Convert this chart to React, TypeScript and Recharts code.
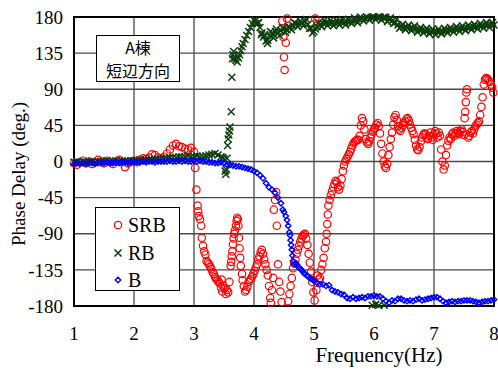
import { ScatterChart, Scatter, XAxis, YAxis, CartesianGrid, ReferenceArea } from "recharts";

// [frequency Hz, phase deg]
const SRB: [number, number][] = [
  [1.0, -2], [1.05, -4], [1.1, -1], [1.15, 1], [1.2, -2], [1.25, 0], [1.3, -3], [1.35, -1], [1.4, 2], [1.45, 0],
  [1.5, -2], [1.55, 1], [1.6, -1], [1.65, -3], [1.7, 0], [1.75, 2], [1.8, -1], [1.85, -7], [1.9, -2], [1.95, 0],
  [2.0, 1], [2.05, -1], [2.1, 2], [2.15, 4], [2.2, 3], [2.25, 5], [2.3, 9], [2.35, 8], [2.4, 5], [2.45, 4],
  [2.5, 6], [2.55, 10], [2.6, 15], [2.65, 20], [2.7, 22], [2.75, 19], [2.8, 18], [2.85, 16], [2.9, 15], [2.95, 17],
  [3.0, 12], [3.02, -8], [3.04, -35], [3.06, -55], [3.07, -62], [3.08, -68], [3.1, -72], [3.12, -80], [3.13, -95],
  [3.15, -105], [3.17, -112], [3.19, -116], [3.21, -124], [3.23, -126], [3.25, -128], [3.27, -131], [3.29, -134],
  [3.31, -138], [3.33, -140], [3.35, -144], [3.37, -146], [3.39, -148], [3.41, -150], [3.43, -152], [3.45, -157],
  [3.46, -147], [3.47, -162], [3.49, -155], [3.51, -158], [3.53, -165], [3.55, -160], [3.57, -163], [3.59, -150],
  [3.61, -130], [3.62, -125], [3.63, -118], [3.64, -112], [3.65, -103], [3.66, -96], [3.67, -90], [3.68, -86],
  [3.7, -80], [3.71, -74], [3.72, -70], [3.73, -72], [3.74, -80], [3.75, -95], [3.76, -108], [3.77, -120],
  [3.78, -130], [3.8, -140], [3.81, -148], [3.83, -155], [3.85, -162], [3.87, -160], [3.89, -156], [3.91, -150],
  [3.93, -148], [3.95, -146], [3.97, -143], [3.99, -140], [4.01, -136], [4.03, -132], [4.05, -128], [4.07, -122],
  [4.09, -118], [4.11, -113], [4.13, -110], [4.15, -115], [4.17, -122], [4.19, -128], [4.21, -135], [4.23, -142],
  [4.25, -155], [4.27, -170], [4.28, -176], [4.3, -160], [4.32, -145], [4.33, -60], [4.35, -48], [4.37, -38],
  [4.38, -80], [4.4, -128], [4.42, -150], [4.44, -162], [4.46, -175], [4.47, 175], [4.49, 155], [4.5, 130],
  [4.51, 114], [4.53, 148], [4.55, 178], [4.57, -174], [4.59, -165], [4.61, -155], [4.63, -145], [4.65, -133],
  [4.67, -127], [4.69, -122], [4.71, -115], [4.73, -110], [4.75, -105], [4.77, -100], [4.79, -96], [4.81, -93],
  [4.83, -91], [4.85, -90], [4.87, -96], [4.89, -104], [4.91, -115], [4.93, -126], [4.95, -137], [4.97, -150],
  [4.99, -163], [5.01, -173], [5.02, 178], [5.04, -160], [5.06, -142], [5.08, -147], [5.1, -145], [5.12, -135],
  [5.14, -128], [5.16, -120], [5.18, -108], [5.2, -100], [5.21, -90], [5.22, -78], [5.23, -66], [5.24, -55],
  [5.26, -48], [5.28, -42], [5.3, -37], [5.32, -32], [5.34, -28], [5.36, -24], [5.38, -26], [5.4, -32], [5.42, -35],
  [5.44, -30], [5.46, -22], [5.48, -12], [5.5, -5], [5.52, 0], [5.54, 3], [5.56, 6], [5.58, 9], [5.6, 12], [5.62, 16],
  [5.64, 20], [5.66, 23], [5.68, 25], [5.7, 26], [5.72, 27], [5.74, 27], [5.76, 32], [5.78, 45], [5.8, 54], [5.82, 50],
  [5.84, 40], [5.86, 28], [5.88, 24], [5.9, 22], [5.92, 25], [5.94, 30], [5.96, 34], [5.98, 37], [6.0, 40], [6.02, 42],
  [6.04, 46], [6.06, 48], [6.08, 44], [6.1, 35], [6.12, 22], [6.14, 10], [6.16, 0], [6.18, -6], [6.2, -8], [6.22, -3],
  [6.24, 8], [6.26, 18], [6.28, 28], [6.3, 36], [6.32, 46], [6.34, 55], [6.36, 58], [6.38, 52], [6.4, 44], [6.42, 40],
  [6.44, 38], [6.46, 42], [6.48, 45], [6.5, 48], [6.52, 50], [6.54, 53], [6.56, 54], [6.58, 51], [6.6, 46], [6.62, 42],
  [6.64, 38], [6.66, 34], [6.68, 27], [6.7, 20], [6.72, 15], [6.74, 14], [6.76, 18], [6.78, 25], [6.8, 30], [6.82, 33],
  [6.84, 35], [6.86, 34], [6.88, 30], [6.9, 28], [6.92, 32], [6.94, 36], [6.96, 30], [6.98, 27], [7.0, 34], [7.02, 38],
  [7.04, 35], [7.06, 30], [7.08, 36], [7.1, 32], [7.12, 15], [7.14, 0], [7.16, -10], [7.18, -5], [7.2, 8], [7.22, 20],
  [7.24, 26], [7.26, 30], [7.28, 28], [7.3, 34], [7.32, 36], [7.34, 32], [7.36, 35], [7.38, 38], [7.4, 36], [7.42, 34],
  [7.44, 38], [7.46, 40], [7.48, 37], [7.5, 33], [7.51, 54], [7.52, 62], [7.53, 74], [7.54, 86], [7.55, 90], [7.57, 30],
  [7.59, 32], [7.61, 36], [7.63, 38], [7.65, 35], [7.67, 40], [7.69, 44], [7.71, 46], [7.73, 48], [7.75, 50], [7.77, 58],
  [7.79, 68], [7.81, 80], [7.83, 96], [7.85, 102], [7.87, 104], [7.89, 103], [7.91, 101], [7.93, 99], [7.95, 96],
  [7.97, 92], [7.99, 86],
];

const RB: [number, number][] = [
  [1.0, -1], [1.05, 0], [1.1, -1], [1.15, 0], [1.2, -1], [1.25, 0], [1.3, 0], [1.35, -1], [1.4, 0], [1.45, 0],
  [1.5, 0], [1.55, 1], [1.6, 0], [1.65, 0], [1.7, 1], [1.75, 0], [1.8, 1], [1.85, 1], [1.9, 0], [1.95, 1],
  [2.0, 1], [2.05, 1], [2.1, 2], [2.15, 1], [2.2, 2], [2.25, 2], [2.3, 2], [2.35, 3], [2.4, 3], [2.45, 3],
  [2.5, 4], [2.55, 4], [2.6, 5], [2.65, 5], [2.7, 5], [2.75, 6], [2.8, 6], [2.85, 6], [2.9, 7], [2.95, 6],
  [3.0, 6], [3.05, 7], [3.1, 6], [3.15, 6], [3.2, 7], [3.25, 8], [3.3, 9], [3.35, 10], [3.4, 8], [3.45, 6],
  [3.48, 5], [3.5, 3], [3.52, -12], [3.53, -16], [3.54, -10], [3.55, 4], [3.56, 20], [3.57, 28], [3.58, 33],
  [3.59, 38], [3.6, 43], [3.62, 62], [3.63, 105], [3.64, 128], [3.65, 133], [3.66, 137], [3.68, 128], [3.7, 126],
  [3.72, 124], [3.74, 129], [3.76, 133], [3.78, 138], [3.8, 143], [3.82, 147], [3.85, 152], [3.88, 157],
  [3.91, 162], [3.94, 167], [3.97, 172], [4.0, 176], [4.03, 176], [4.06, 172], [4.1, 167], [4.13, 160],
  [4.16, 155], [4.2, 150], [4.23, 151], [4.26, 157], [4.3, 160], [4.33, 158], [4.36, 162], [4.4, 160],
  [4.45, 163], [4.5, 166], [4.55, 164], [4.6, 167], [4.65, 169], [4.7, 172], [4.75, 171], [4.8, 173],
  [4.85, 174], [4.9, 171], [4.95, 166], [5.0, 162], [5.05, 168], [5.1, 171], [5.15, 172], [5.2, 173],
  [5.25, 172], [5.3, 173], [5.35, 172], [5.4, 173], [5.45, 174], [5.5, 173], [5.55, 174], [5.6, 174],
  [5.65, 175], [5.7, 176], [5.75, 177], [5.8, 178], [5.85, 178], [5.9, 179], [5.95, 179], [5.97, -179],
  [6.0, 180], [6.03, -178], [6.05, 179], [6.08, -179], [6.1, 180], [6.15, 179], [6.17, -179], [6.2, 179],
  [6.25, 177], [6.3, 175], [6.35, 173], [6.4, 170], [6.45, 168], [6.5, 167], [6.55, 167], [6.6, 166],
  [6.65, 166], [6.7, 165], [6.75, 164], [6.8, 164], [6.85, 163], [6.9, 163], [6.95, 162], [7.0, 162],
  [7.05, 162], [7.1, 162], [7.15, 162], [7.2, 163], [7.25, 164], [7.3, 164], [7.35, 165], [7.4, 165],
  [7.45, 166], [7.5, 166], [7.55, 167], [7.6, 167], [7.65, 168], [7.7, 168], [7.75, 169], [7.8, 169],
  [7.85, 170], [7.9, 170], [7.95, 171], [8.0, 170],
  // scatter along the upper and lower edges of the thick band above 4 Hz
  [4.025, 172], [4.075, 173], [4.125, 158], [4.175, 158], [4.225, 147], [4.275, 162], [4.325, 154], [4.375, 165],
  [4.425, 157], [4.475, 167], [4.525, 161], [4.575, 168], [4.625, 164], [4.675, 173], [4.725, 168], [4.775, 175],
  [4.825, 169], [4.875, 177], [4.925, 166], [4.975, 160], [5.025, 165], [5.075, 173], [5.125, 168], [5.175, 176],
  [5.225, 169], [5.275, 176], [5.325, 169], [5.375, 176], [5.425, 170], [5.475, 177], [5.525, 170], [5.575, 177],
  [5.625, 172], [5.675, 179], [5.725, 173], [5.775, 180], [5.825, 175], [5.875, 180], [5.925, 176], [5.975, 180],
  [6.025, 177], [6.075, 180], [6.125, 176], [6.175, 180], [6.225, 174], [6.275, 179], [6.325, 172], [6.375, 177],
  [6.425, 166], [6.475, 171], [6.525, 164], [6.575, 170], [6.625, 163], [6.675, 169], [6.725, 161], [6.775, 167],
  [6.825, 160], [6.875, 166], [6.925, 159], [6.975, 165], [7.025, 158], [7.075, 165], [7.125, 159], [7.175, 166],
  [7.225, 160], [7.275, 167], [7.325, 161], [7.375, 168], [7.425, 162], [7.475, 169], [7.525, 163], [7.575, 170],
  [7.625, 164], [7.675, 171], [7.725, 165], [7.775, 172], [7.825, 166], [7.875, 173], [7.925, 167], [7.975, 173],
];

const B: [number, number][] = [
  [1.0, -3], [1.05, -2], [1.1, -3], [1.15, -2], [1.2, -3], [1.25, -2], [1.3, -2], [1.35, -3], [1.4, -2], [1.45, -2],
  [1.5, -2], [1.55, -1], [1.6, -2], [1.65, -2], [1.7, -1], [1.75, -2], [1.8, -1], [1.85, -1], [1.9, -2], [1.95, -1],
  [2.0, -1], [2.05, -1], [2.1, -1], [2.15, 0], [2.2, -1], [2.25, 0], [2.3, 0], [2.35, -1], [2.4, 0], [2.45, 0],
  [2.5, 0], [2.55, 0], [2.6, 1], [2.65, 0], [2.7, 0], [2.75, 1], [2.8, 0], [2.85, 1], [2.9, 0], [2.95, 0],
  [3.0, 1], [3.05, 0], [3.1, 1], [3.15, 0], [3.2, 0], [3.25, -1], [3.3, -1], [3.35, -2], [3.4, -2], [3.45, -1],
  [3.5, -2], [3.55, -4], [3.6, -4], [3.65, -5], [3.7, -6], [3.75, -6], [3.8, -7], [3.85, -8], [3.9, -9],
  [3.95, -10], [4.0, -12], [4.05, -14], [4.1, -17], [4.15, -21], [4.2, -27], [4.25, -32], [4.3, -35],
  [4.35, -39], [4.4, -45], [4.45, -52], [4.48, -60], [4.5, -63], [4.53, -68], [4.55, -73], [4.57, -80],
  [4.59, -88], [4.6, -92], [4.61, -98], [4.62, -104], [4.63, -110], [4.64, -117], [4.65, -124], [4.67, -128],
  [4.7, -127], [4.72, -129], [4.75, -132], [4.78, -134], [4.8, -136], [4.83, -139], [4.85, -140], [4.88, -142],
  [4.9, -143], [4.93, -145], [4.95, -146], [4.98, -147], [5.0, -149], [5.05, -151], [5.1, -153], [5.15, -153],
  [5.2, -155], [5.25, -154], [5.3, -160], [5.35, -162], [5.4, -163], [5.45, -165], [5.5, -166], [5.55, -170],
  [5.6, -171], [5.65, -169], [5.7, -171], [5.75, -170], [5.8, -169], [5.85, -170], [5.9, -168], [5.95, -168],
  [6.0, -167], [6.05, -168], [6.1, -168], [6.15, -171], [6.2, -174], [6.25, -176], [6.3, -173], [6.35, -174],
  [6.4, -171], [6.45, -171], [6.5, -173], [6.55, -174], [6.6, -173], [6.65, -174], [6.7, -172], [6.75, -171],
  [6.8, -173], [6.85, -172], [6.9, -171], [6.95, -170], [7.0, -169], [7.05, -169], [7.1, -171], [7.15, -174],
  [7.2, -176], [7.25, -175], [7.3, -174], [7.35, -175], [7.4, -174], [7.45, -174], [7.5, -173], [7.55, -173],
  [7.6, -173], [7.65, -174], [7.7, -175], [7.75, -176], [7.8, -175], [7.85, -174], [7.9, -174], [7.95, -173],
  [8.0, -172],
];

const X_TICKS = [1, 2, 3, 4, 5, 6, 7, 8];
const Y_TICKS = [-180, -135, -90, -45, 0, 45, 90, 135, 180];

const RED = "#ff0000";
const GREEN = "#0d3f0d";
const BLUE = "#0000ff";
const SERIF = "'Liberation Serif', 'Times New Roman', serif";

const toRows = (pts: [number, number][]) => pts.map(([f, v]) => ({ f, v }));

const Circle = (p: any) => (
  <circle cx={p.cx} cy={p.cy} r={3.7} fill="none" stroke={RED} strokeWidth={1.2} />
);

const Cross = (p: any) => (
  <path
    d={`M${p.cx - 3.5},${p.cy - 3.5}L${p.cx + 3.5},${p.cy + 3.5}M${p.cx - 3.5},${p.cy + 3.5}L${p.cx + 3.5},${p.cy - 3.5}`}
    stroke={GREEN}
    strokeWidth={1.5}
  />
);

const Diamond = (p: any) => (
  <path
    d={`M${p.cx},${p.cy - 2.7}L${p.cx + 2.7},${p.cy}L${p.cx},${p.cy + 2.7}L${p.cx - 2.7},${p.cy}Z`}
    fill="none"
    stroke={BLUE}
    strokeWidth={1.4}
  />
);

const XTick = (p: any) => (
  <text x={p.x} y={340} textAnchor="middle" fontFamily={SERIF} fontSize={19} fill="#000">
    {p.payload.value}
  </text>
);

const YTick = (p: any) => (
  <text x={63} y={p.y} dy="0.35em" textAnchor="end" fontFamily={SERIF} fontSize={19} fill="#000">
    {p.payload.value}
  </text>
);

export default function App() {
  return (
    <div style={{ position: "absolute", left: 0, top: 0, width: 498, height: 370, background: "#fff" }}>
      <ScatterChart width={498} height={370} margin={{ top: 17, right: 4, bottom: 0, left: 0 }}>
        <CartesianGrid stroke="#4a4a4a" strokeWidth={1.3} />
        <XAxis
          type="number"
          dataKey="f"
          domain={[1, 8]}
          ticks={X_TICKS}
          height={64}
          tickLine={false}
          axisLine={false}
          tick={XTick}
          label={{
            content: () => (
              <text x={379} y={362} textAnchor="middle" fontFamily={SERIF} fontSize={21} fill="#000">
                Frequency(Hz)
              </text>
            ),
          }}
        />
        <YAxis
          type="number"
          dataKey="v"
          domain={[-180, 180]}
          ticks={Y_TICKS}
          width={74}
          tickLine={false}
          axisLine={false}
          tick={YTick}
          label={{
            content: () => (
              <text
                x={18}
                y={174}
                transform="rotate(-90 18 174)"
                textAnchor="middle"
                dominantBaseline="central"
                fontFamily={SERIF}
                fontSize={19}
                fill="#000"
              >
                Phase Delay (deg.)
              </text>
            ),
          }}
        />
        <Scatter name="SRB" data={toRows(SRB)} shape={Circle} isAnimationActive={false} />
        <Scatter name="RB" data={toRows(RB)} shape={Cross} isAnimationActive={false} />
        <Scatter name="B" data={toRows(B)} shape={Diamond} isAnimationActive={false} />
        <ReferenceArea x1={1} x2={8} y1={-180} y2={180} fill="none" stroke="#000" strokeWidth={2} ifOverflow="visible" />
      </ScatterChart>

      <div
        style={{
          position: "absolute",
          left: 96,
          top: 35,
          width: 84,
          height: 47,
          boxSizing: "border-box",
          border: "1.5px solid #000",
          background: "#fff",
          fontFamily: "'Noto Sans CJK JP', 'Noto Sans', sans-serif",
          fontSize: 16,
          lineHeight: "23px",
          textAlign: "center",
        }}
      >
        <div>A棟</div>
        <div>短辺方向</div>
      </div>

      <div
        style={{
          position: "absolute",
          left: 95,
          top: 207,
          width: 85,
          height: 84,
          boxSizing: "border-box",
          border: "1.5px solid #000",
          background: "#fff",
          fontFamily: SERIF,
          fontSize: 20,
        }}
      >
        {[
          { label: "SRB", node: <circle cx={8} cy={8} r={3.7} fill="none" stroke={RED} strokeWidth={1.2} /> },
          { label: "RB", node: <path d="M4.5,4.5L11.5,11.5M4.5,11.5L11.5,4.5" stroke={GREEN} strokeWidth={1.5} /> },
          { label: "B", node: <path d="M8,5.3L10.7,8L8,10.7L5.3,8Z" fill="none" stroke={BLUE} strokeWidth={1.4} /> },
        ].map((item, i) => (
          <div
            key={item.label}
            style={{ position: "absolute", left: 14, top: 7 + i * 27.5, height: 20, display: "flex", alignItems: "center" }}
          >
            <svg width={16} height={16} style={{ marginRight: 2 }}>
              {item.node}
            </svg>
            <span style={{ lineHeight: "20px" }}>{item.label}</span>
          </div>
        ))}
      </div>
    </div>
  );
}
